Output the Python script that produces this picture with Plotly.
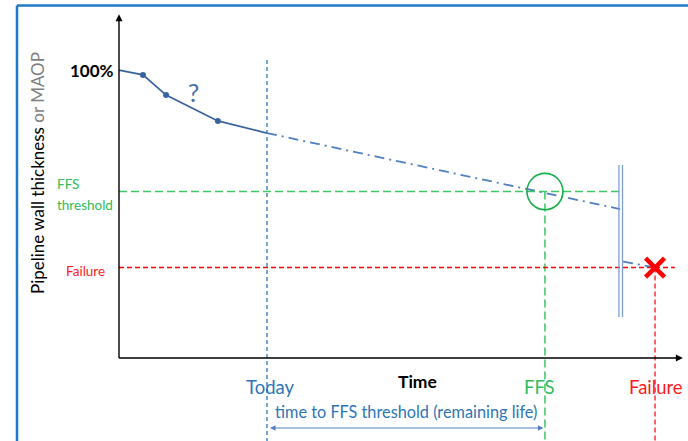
import plotly.graph_objects as go

# ---- data (time in years, level in % of nominal) ----
measured_t = [0.0, 0.81, 1.59, 3.34, 5.0]
measured_y = [100.0, 98.3, 91.3, 82.3, 78.1]
marker_t = [0.81, 1.59, 3.34]
marker_y = [98.3, 91.3, 82.3]
proj_t = [5.0, 16.93]
proj_y = [78.1, 51.7]
proj2_t = [17.03, 18.11]
proj2_y = [33.5, 31.4]
t_today = 5.0
t_ffs = 14.39
t_failure = 18.11
y_ffs = 57.8
y_failure = 31.4
t_break = [16.89, 17.01]
y_break = [14.2, 67.0]
t_axis_end = 19.05
y_axis_end = 119.4
y_life_arrow = -24.3

XR = [-4.0203, 19.223]
YR = [-28.82, 124.31]
FONT = "Lato"

fig = go.Figure()

# measured solid curve
fig.add_trace(go.Scatter(x=measured_t, y=measured_y, mode="lines",
                         line=dict(color="#3a64a0", width=1.8), hoverinfo="skip"))
fig.add_trace(go.Scatter(x=marker_t, y=marker_y, mode="markers",
                         marker=dict(color="#3a64a0", size=6), hoverinfo="skip"))
# projection dash-dot
fig.add_trace(go.Scatter(x=proj_t, y=proj_y, mode="lines",
                         line=dict(color="#4f7fc0", width=1.8, dash="10px,5px,2px,5px"), hoverinfo="skip"))
fig.add_trace(go.Scatter(x=proj2_t, y=proj2_y, mode="lines",
                         line=dict(color="#4f7fc0", width=1.8, dash="10px,5px,2px,5px"), hoverinfo="skip"))

# threshold lines
fig.add_trace(go.Scatter(x=[0, t_break[0]], y=[y_ffs, y_ffs], mode="lines",
                         line=dict(color="#3cc865", width=1.5, dash="8px,4px"), hoverinfo="skip"))
fig.add_trace(go.Scatter(x=[t_ffs, t_ffs], y=[y_ffs, YR[0]], mode="lines",
                         line=dict(color="#3cc865", width=1.5, dash="8px,4px"), hoverinfo="skip"))
fig.add_trace(go.Scatter(x=[0, 18.78], y=[y_failure, y_failure], mode="lines",
                         line=dict(color="#ff0000", width=1.6, dash="5px,3px"), hoverinfo="skip"))
fig.add_trace(go.Scatter(x=[t_failure, t_failure], y=[y_failure, YR[0]], mode="lines",
                         line=dict(color="#ff4040", width=1.6, dash="5px,3px"), hoverinfo="skip"))
fig.add_trace(go.Scatter(x=[t_today, t_today], y=[103.5, YR[0]], mode="lines",
                         line=dict(color="#3a80c8", width=1.4, dash="4px,3px"), hoverinfo="skip"))

# break double line
for tb in t_break:
    fig.add_trace(go.Scatter(x=[tb, tb], y=y_break, mode="lines",
                             line=dict(color="#7f9ed0", width=1.3), hoverinfo="skip"))

# failure X
fig.add_trace(go.Scatter(x=[t_failure], y=[y_failure], mode="markers",
                         marker=dict(symbol="x-thin", size=19, line=dict(color="#ff0000", width=4.5)),
                         hoverinfo="skip"))

# circle at FFS crossing
fig.add_shape(type="circle", xref="x", yref="y",
              x0=t_ffs - 0.608, x1=t_ffs + 0.608, y0=y_ffs - 6.3, y1=y_ffs + 6.3,
              line=dict(color="#16b04a", width=1.6))

# axes with arrows
fig.add_annotation(x=0, y=y_axis_end, ax=0, ay=-0.5, xref="x", yref="y", axref="x", ayref="y",
                   showarrow=True, arrowhead=2, arrowsize=1, arrowwidth=1.4, arrowcolor="#000000", text="")
fig.add_annotation(x=t_axis_end, y=0, ax=-0.05, ay=0, xref="x", yref="y", axref="x", ayref="y",
                   showarrow=True, arrowhead=2, arrowsize=1, arrowwidth=1.4, arrowcolor="#000000", text="")

# remaining-life double arrow
fig.add_annotation(x=t_ffs - 0.05, y=y_life_arrow, ax=t_today + 0.05, ay=y_life_arrow,
                   xref="x", yref="y", axref="x", ayref="y",
                   showarrow=True, arrowhead=2, startarrowhead=2, arrowside="end+start",
                   arrowsize=1, arrowwidth=1.1, arrowcolor="#4f7fc0", text="")

# border (slide frame)
fig.add_shape(type="line", xref="paper", yref="paper", x0=17/688, x1=17/688, y0=0, y1=1 - 5.5/441,
              line=dict(color="#1f78c8", width=2.5))
fig.add_shape(type="line", xref="paper", yref="paper", x0=17/688, x1=1, y0=1 - 5.5/441, y1=1 - 5.5/441,
              line=dict(color="#1f78c8", width=2.5))

def txt(x, y, s, color, size, bold=False, xanchor="center", yanchor="middle", **kw):
    fig.add_annotation(x=x, y=y, xref="x", yref="y", text=("<b>%s</b>" % s) if bold else s,
                       showarrow=False, font=dict(family=FONT, size=size, color=color),
                       xanchor=xanchor, yanchor=yanchor, **kw)

txt(-0.1, 100.0, "100%", "#000000", 17, bold=True, xanchor="right")
txt(2.5, 92.4, "?", "#4a6fa5", 25)
txt(-2.16, 60.4, "FFS", "#2ebd5a", 13.5, xanchor="left")
txt(-2.16, 53.1, "threshold", "#2ebd5a", 13.5, xanchor="left")
txt(-0.4, 30.3, "Failure", "#ff1a1a", 13.5, xanchor="right")
txt(10.07, -8.0, "Time", "#000000", 17.5, bold=True)
txt(5.1, -10.2, "Today", "#2e75b6", 18.5)
txt(14.2, -10.2, "FFS", "#2ebd5a", 18.5)
txt(18.13, -10.2, "Failure", "#ff1a1a", 18.5)
txt(9.7, -18.7, "time to FFS threshold (remaining life)", "#2e75b6", 16.3)

# y-axis title
fig.add_annotation(x=(37 - 119) / 29.6, y=(358 - 173) / 2.88, xref="x", yref="y",
                   text="Pipeline wall thickness <span style='color:#7f7f7f'>or MAOP</span>",
                   textangle=-90, showarrow=False,
                   font=dict(family=FONT, size=17, color="#000000"))

fig.update_layout(
    width=688, height=441, margin=dict(l=0, r=0, t=0, b=0),
    paper_bgcolor="white", plot_bgcolor="white", showlegend=False,
    xaxis=dict(range=XR, visible=False, fixedrange=True),
    yaxis=dict(range=YR, visible=False, fixedrange=True),
)

fig.write_html("out.html", config={"displayModeBar": False},
               post_script="document.body.style.margin='0';document.body.style.overflow='hidden';")
